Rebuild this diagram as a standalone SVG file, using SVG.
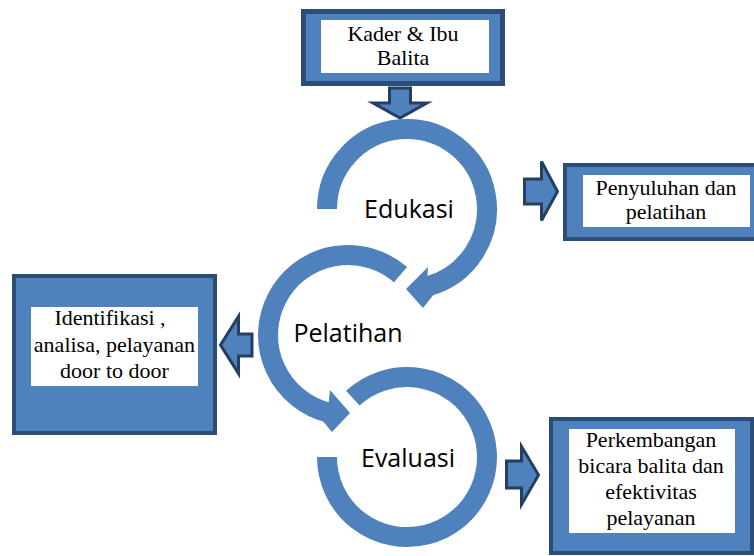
<svg xmlns="http://www.w3.org/2000/svg" width="754" height="556" viewBox="0 0 754 556">
<style>
.box{fill:#4f81bd;stroke:#2c4d75}
.inner{fill:#ffffff}
.blk{fill:#4f81bd;stroke:#253f61;stroke-width:3;stroke-linejoin:miter}
.ring{fill:none;stroke:#4f81bd;stroke-width:20;stroke-linecap:butt}
.head{fill:#4f81bd}
.st{font-family:"Liberation Serif","Times New Roman",serif;font-size:22px;fill:#000;text-anchor:middle}
.lbl{font-family:"Open Sans","Noto Sans",sans-serif;font-size:25px;fill:#000;text-anchor:middle}
</style>
<rect width="754" height="556" fill="#ffffff"/>
<g id="connectors">
<polygon class="blk" points="389.5,88 410.5,88 410.5,103 427,103 400,118 373,103 389.5,103"/>
<polygon class="blk" points="524.5,179 541.5,179 541.5,161.5 557.5,191.5 541.5,220.5 541.5,204 524.5,204"/>
<polygon class="blk" points="252,334 238.5,334 238.5,316.5 220.5,345 238.5,373.5 238.5,356 252,356"/>
<polygon class="blk" points="506.5,461 521.5,461 521.5,446.5 538.5,475 521.5,504.5 521.5,488 506.5,488"/>
</g>
<g id="node-kader">
<rect class="box" x="303.5" y="11.5" width="199" height="72" stroke-width="5"/>
<rect class="inner" x="321" y="20" width="168" height="53"/>
<text class="st" x="403" y="41">Kader &amp; Ibu</text>
<text class="st" x="403" y="65">Balita</text>
</g>
<g id="node-edukasi">
<path class="ring" d="M327,209 A80,80 0 1 1 427.7,286.3"/>
<polygon class="head" points="427.5,275.9 428,267 406,289 423,308 433.3,295.1"/>
<text class="lbl" x="409" y="218">Edukasi</text>
</g>
<g id="node-pelatihan">
<path class="ring" d="M400.5,274.6 A80,80 0 1 0 328.6,412.6"/>
<polygon class="head" points="328.7,402.3 330,390 350,413 332,432 323.2,421.5"/>
<text class="lbl" x="348" y="342">Pelatihan</text>
</g>
<g id="node-evaluasi">
<path class="ring" d="M352.8,398.2 A80,80 0 1 1 327,457"/>
<text class="lbl" x="408" y="467">Evaluasi</text>
</g>
<g id="node-penyuluhan">
<rect class="box" x="565" y="165" width="191" height="74" stroke-width="4"/>
<rect class="inner" x="583" y="175" width="167" height="52"/>
<text class="st" x="666" y="195">Penyuluhan dan</text>
<text class="st" x="666" y="219">pelatihan</text>
</g>
<g id="node-identifikasi">
<rect class="box" x="14" y="276" width="201" height="157" stroke-width="4"/>
<rect class="inner" x="31" y="307" width="167" height="79"/>
<text class="st" x="110" y="325">Identifikasi ,</text>
<text class="st" x="114.5" y="352">analisa, pelayanan</text>
<text class="st" x="114.5" y="378">door to door</text>
</g>
<g id="node-perkembangan">
<rect class="box" x="551" y="419" width="201" height="134" stroke-width="4"/>
<rect class="inner" x="569" y="429" width="166" height="104"/>
<text class="st" x="651" y="447">Perkembangan</text>
<text class="st" x="651" y="473">bicara balita dan</text>
<text class="st" x="651" y="499">efektivitas</text>
<text class="st" x="651" y="525">pelayanan</text>
</g>
</svg>
